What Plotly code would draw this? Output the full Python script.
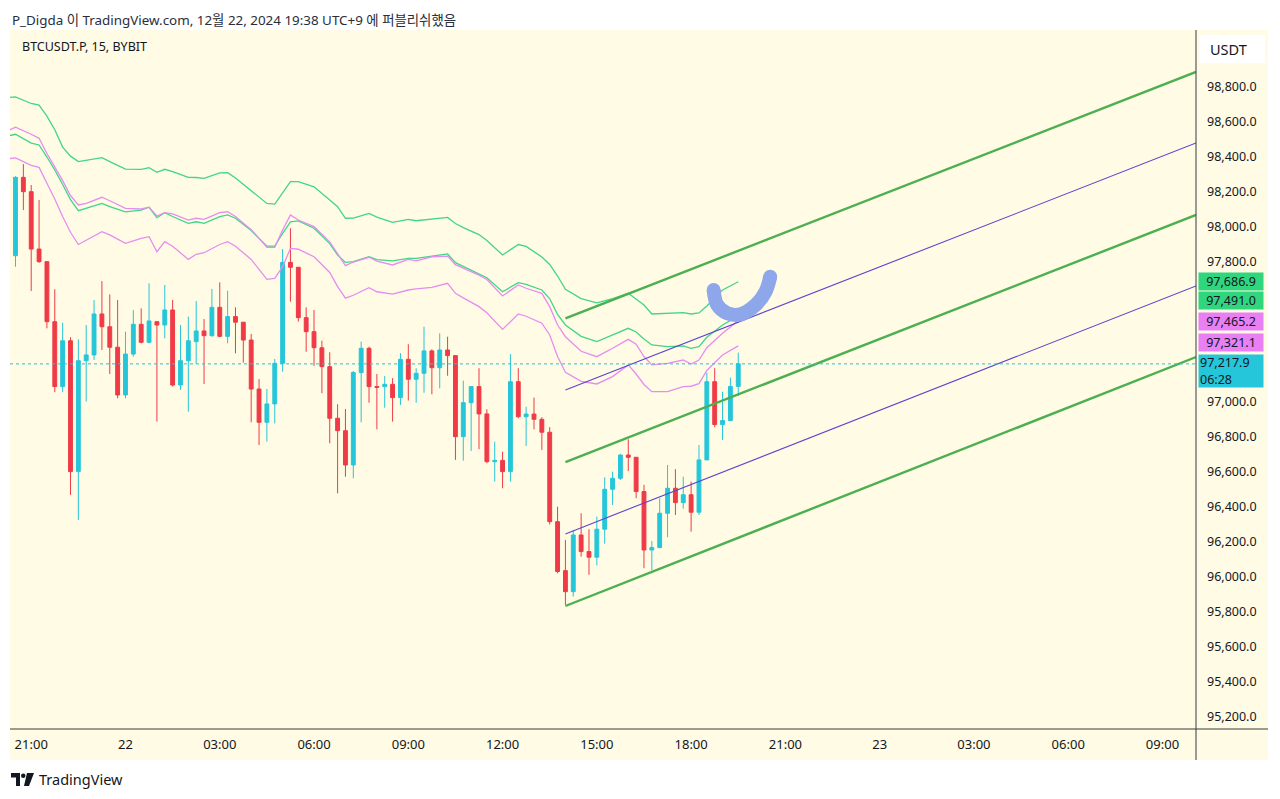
import pandas as pd
import plotly.graph_objects as go

# BTCUSDT.P 15m candles (Bybit, UTC+9), 21 Dec 20:30 -> 22 Dec 19:30
start = pd.Timestamp('2024-12-21 20:30')
opens = [97836, 98284, 98202, 97874, 97802, 97459, 97088, 97350, 96602, 97236,
         97269, 97503, 97430, 97313, 97040, 97274, 97444, 97341, 97459, 97440,
         97526, 97097, 97236, 97345, 97406, 97379, 97541, 97375, 97488, 97456,
         97354, 97074, 96884, 96989, 97221, 97798, 97770, 97482, 97402, 97310,
         97202, 96907, 96836, 96640, 97168, 97307, 97088, 97088, 97101, 97025,
         97244, 97130, 97164, 97292, 97196, 97297, 97265, 96802, 96996, 97088,
         96932, 96659, 96666, 96602, 97116, 96916, 96931, 96901, 96827, 96316,
         96036, 95916, 96240, 96145, 96113, 96273, 96501, 96564, 96697, 96684,
         96488, 96154, 96168, 96364, 96507, 96425, 96470, 96370, 96669, 97116,
         96871, 96894, 97089]
highs = [98290, 98360, 98240, 98154, 97802, 97644, 97453, 97370, 97358, 97440,
         97583, 97691, 97615, 97583, 97402, 97526, 97535, 97678, 97459, 97669,
         97583, 97440, 97488, 97577, 97474, 97646, 97684, 97636, 97541, 97456,
         97389, 97131, 97074, 97246, 97874, 97993, 97770, 97541, 97526, 97350,
         97284, 96987, 96960, 97177, 97345, 97316, 97160, 97149, 97136, 97279,
         97330, 97193, 97430, 97301, 97393, 97373, 97265, 97122, 97088, 97193,
         96958, 96773, 96716, 97274, 97193, 96973, 97025, 96913, 96856, 96402,
         96212, 96269, 96364, 96273, 96345, 96570, 96602, 96703, 96787, 96684,
         96526, 96205, 96450, 96640, 96616, 96573, 96545, 96754, 97168, 97193,
         97059, 97139, 97282]
lows = [97773, 98097, 97634, 97795, 97421, 97056, 97056, 96469, 96326, 97002,
        97240, 97297, 97160, 97021, 97021, 97259, 97335, 97335, 96888, 97364,
        97088, 97069, 96945, 97218, 97103, 97373, 97370, 97335, 97278, 97225,
        96884, 96754, 96773, 96878, 97173, 97573, 97459, 97287, 97206, 97050,
        96764, 96478, 96573, 96564, 96884, 96996, 96844, 96967, 96888, 96983,
        97008, 96996, 97053, 97044, 97078, 97150, 96669, 96665, 96720, 96730,
        96650, 96545, 96507, 96545, 96907, 96749, 96844, 96726, 96300, 96021,
        95840, 95888, 96116, 96012, 96066, 96190, 96411, 96554, 96605, 96450,
        96050, 96037, 96164, 96227, 96354, 96390, 96259, 96354, 96669, 96856,
        96783, 96894, 97034]
closes = [98284, 98202, 97874, 97802, 97459, 97088, 97350, 96602, 97236, 97269,
          97503, 97430, 97313, 97040, 97274, 97444, 97341, 97463, 97440, 97526,
          97097, 97236, 97350, 97406, 97379, 97541, 97375, 97488, 97456, 97354,
          97074, 96884, 96989, 97221, 97798, 97770, 97482, 97402, 97310, 97202,
          96907, 96836, 96640, 97168, 97307, 97088, 97084, 97101, 97025, 97244,
          97130, 97164, 97292, 97196, 97297, 97265, 96802, 96996, 97088, 96932,
          96659, 96666, 96602, 97116, 96916, 96931, 96901, 96827, 96316, 96031,
          95916, 96240, 96145, 96113, 96273, 96501, 96564, 96697, 96684, 96488,
          96154, 96168, 96364, 96507, 96425, 96470, 96370, 96669, 97116, 96871,
          96894, 97089, 97218]
times = pd.date_range(start, periods=len(opens), freq='15min')

# indicator bands, read at these bar numbers (bar 0 = 20:30)
band_idx = [-1, 0, 2, 3, 4, 5, 6, 7, 8, 9, 11, 12, 14, 16, 17, 18, 19, 20, 22, 23,
            24, 26, 27, 28, 30, 32, 33, 34, 35, 36, 38, 40, 41, 42, 43, 45, 46, 48,
            50, 51, 53, 55, 56, 57, 59, 60, 62, 64, 65, 67, 68, 69, 70, 72, 74, 76,
            78, 79, 80, 81, 83, 85, 86, 87, 88, 90, 92]
green_upper = [98740, 98744, 98706, 98697, 98634, 98556, 98457, 98405, 98374, 98380,
               98396, 98374, 98331, 98330, 98339, 98313, 98330, 98317, 98284, 98283,
               98278, 98309, 98310, 98280, 98206, 98135, 98131, 98193, 98259, 98259,
               98230, 98154, 98116, 98050, 98051, 98078, 98057, 98027, 98044, 98036,
               98046, 98055, 98020, 97997, 97957, 97923, 97840, 97900, 97889, 97829,
               97786, 97720, 97644, 97591, 97567, 97591, 97621, 97589, 97554, 97503,
               97507, 97511, 97503, 97509, 97549, 97640, 97687]
green_lower = [98520, 98530, 98480, 98469, 98400, 98326, 98243, 98157, 98093, 98107,
               98135, 98116, 98087, 98097, 98113, 98053, 98082, 98060, 98021, 98030,
               98021, 98059, 98069, 98050, 97980, 97891, 97891, 97964, 98030, 98035,
               97993, 97905, 97840, 97798, 97802, 97831, 97814, 97807, 97821, 97821,
               97834, 97846, 97796, 97775, 97735, 97710, 97630, 97682, 97672, 97640,
               97590, 97500, 97440, 97375, 97345, 97383, 97421, 97400, 97360, 97326,
               97316, 97320, 97307, 97316, 97370, 97440, 97491]
pink_upper = [98550, 98570, 98530, 98507, 98420, 98345, 98265, 98180, 98126, 98135,
              98170, 98150, 98107, 98103, 98113, 98063, 98082, 98075, 98040, 98050,
              98044, 98082, 98087, 98060, 97985, 97884, 97884, 97983, 98069, 98040,
              98002, 97915, 97850, 97779, 97800, 97827, 97805, 97783, 97815, 97807,
              97830, 97834, 97785, 97765, 97725, 97700, 97606, 97669, 97650, 97621,
              97545, 97440, 97373, 97290, 97259, 97307, 97358, 97330, 97260, 97212,
              97221, 97240, 97217, 97240, 97310, 97393, 97465]
pink_lower = [98390, 98395, 98352, 98341, 98250, 98160, 98060, 97970, 97900, 97925,
              97973, 97955, 97907, 97935, 97945, 97859, 97916, 97890, 97815, 97844,
              97853, 97900, 97916, 97890, 97815, 97701, 97707, 97773, 97878, 97873,
              97830, 97740, 97659, 97593, 97610, 97653, 97630, 97617, 97640, 97646,
              97655, 97678, 97621, 97595, 97545, 97510, 97415, 97503, 97490, 97450,
              97383, 97260, 97170, 97118, 97103, 97145, 97212, 97160, 97100, 97059,
              97059, 97088, 97090, 97105, 97180, 97269, 97321]
band_times = [start + pd.Timedelta(minutes=15 * i) for i in band_idx]

# parallel channel drawing, from the 14:00 low to the right edge
chan_times = ['2024-12-22 14:00', '2024-12-23 10:04']
chan_top = [97478, 98886]
chan_q1 = [97069, 98480]
chan_mid = [96656, 98069]
chan_q3 = [96246, 97663]
chan_bot = [95834, 97257]

# brush stroke
brush_times = ['2024-12-22 18:43', '2024-12-22 18:50', '2024-12-22 19:09', '2024-12-22 19:34',
               '2024-12-22 20:03', '2024-12-22 20:22', '2024-12-22 20:31']
brush_prices = [97640, 97554, 97507, 97501, 97554, 97630, 97716]

# right scale labels: (text, price, colour, nudge)
last_price = 97217.9
price_tags = [('97,686.9', 97686.9, '#2fd67e', 0),
              ('97,491.0', 97491.0, '#2fd67e', 16),
              ('97,465.2', 97465.2, '#e87ff3', -1),
              ('97,321.1', 97321.1, '#e87ff3', 3)]
# levels visible on the price scale (the others sit under the labels)
price_ticks = [98800, 98600, 98400, 98200, 98000, 97800, 97000, 96800, 96600,
               96400, 96200, 96000, 95800, 95600, 95400, 95200]

tick_times = pd.date_range('2024-12-21 21:00', '2024-12-23 09:00', freq='3h')
tick_text = ['21:00', '22', '03:00', '06:00', '09:00', '12:00', '15:00', '18:00',
             '21:00', '23', '03:00', '06:00', '09:00']

BG = '#fffbe4'
TXT = '#131722'
FONT = 'Noto Sans, Noto Sans CJK KR, sans-serif'
UP, DOWN = '#26c6da', '#f03a47'


# screen pixel -> paper coords of the plot area (x 10..1196, y 30..729)
def px(x):
    return (x - 10) / 1186


def py(y):
    return (729 - y) / 699


fig = go.Figure()

for vals, col in [(green_upper, '#3fd68a'), (green_lower, '#3fd68a'),
                  (pink_upper, '#e68cf2'), (pink_lower, '#e68cf2')]:
    fig.add_trace(go.Scatter(x=band_times, y=vals, mode='lines',
                             line=dict(color=col, width=1.3), hoverinfo='skip'))

fig.add_trace(go.Candlestick(x=times, open=opens, high=highs, low=lows, close=closes,
                             increasing=dict(line=dict(color=UP, width=1), fillcolor=UP),
                             decreasing=dict(line=dict(color=DOWN, width=1), fillcolor=DOWN),
                             whiskerwidth=0))

for vals in [chan_q1, chan_q3]:
    fig.add_trace(go.Scatter(x=chan_times, y=vals, mode='lines',
                             line=dict(color='#5b45cc', width=1.1), hoverinfo='skip'))
for vals in [chan_top, chan_mid, chan_bot]:
    fig.add_trace(go.Scatter(x=chan_times, y=vals, mode='lines',
                             line=dict(color='#4caf50', width=2.4), hoverinfo='skip'))

fig.add_trace(go.Scatter(x=brush_times, y=brush_prices, mode='lines',
                         line=dict(color='#8ea6ea', width=14, shape='spline'),
                         hoverinfo='skip'))
fig.add_trace(go.Scatter(x=[brush_times[0], brush_times[-1]],
                         y=[brush_prices[0], brush_prices[-1]], mode='markers',
                         marker=dict(color='#8ea6ea', size=14), hoverinfo='skip'))

shapes = [
    dict(type='rect', xref='paper', yref='paper', x0=px(10), x1=px(1268), y0=py(760), y1=py(30),
         fillcolor=BG, line=dict(width=0), layer='below'),
    dict(type='line', xref='paper', yref='paper', x0=px(10), x1=px(1268), y0=py(729), y1=py(729),
         line=dict(color='#363a45', width=1)),
    dict(type='line', xref='paper', yref='paper', x0=px(1196), x1=px(1196), y0=py(760), y1=py(30),
         line=dict(color='#363a45', width=1)),
    dict(type='line', xref='paper', yref='y', x0=0, x1=1, y0=last_price, y1=last_price,
         line=dict(color=UP, width=1, dash='dot')),
    # USDT button
    dict(type='rect', xref='paper', yref='paper', x0=px(1200), x1=px(1265), y0=py(63), y1=py(35),
         fillcolor='white', line=dict(width=0)),
    # TradingView logo
    dict(type='path', xref='paper', yref='paper', fillcolor='#131722', line=dict(width=0),
         path=f'M {px(11)} {py(773)} L {px(20)} {py(773)} L {px(20)} {py(786)} L {px(16)} {py(786)} '
              f'L {px(16)} {py(777.5)} L {px(11)} {py(777.5)} Z'),
    dict(type='circle', xref='paper', yref='paper', fillcolor='#131722', line=dict(width=0),
         x0=px(21), x1=px(25.5), y0=py(778), y1=py(773.5)),
    dict(type='path', xref='paper', yref='paper', fillcolor='#131722', line=dict(width=0),
         path=f'M {px(27)} {py(773)} L {px(34)} {py(773)} L {px(29)} {py(786)} L {px(24)} {py(786)} Z'),
]

annotations = [
    dict(xref='paper', yref='paper', x=px(10), y=py(8.5), xanchor='left', yanchor='top',
         text='P_Digda 이 TradingView.com, 12월 22, 2024 19:38 UTC+9 에 퍼블리쉬했음',
         showarrow=False, font=dict(size=13.4, color='#2a2e39')),
    dict(xref='paper', yref='paper', x=px(20), y=py(46), xanchor='left', yanchor='middle',
         text='BTCUSDT.P, 15, BYBIT', showarrow=False, font=dict(size=12.5, color=TXT)),
    dict(xref='paper', yref='paper', x=px(1228), y=py(49), xanchor='center', yanchor='middle',
         text='USDT', showarrow=False, font=dict(size=14.5, color=TXT)),
    dict(xref='paper', yref='paper', x=px(37), y=py(779), xanchor='left', yanchor='middle',
         text='TradingView', showarrow=False, font=dict(size=14.5, color=TXT)),
]
for text, val, col, shift in price_tags:
    annotations.append(dict(xref='paper', yref='y', x=px(1230.5), y=val, yshift=shift,
                            xanchor='center', yanchor='middle', text=text, showarrow=False,
                            bgcolor=col, width=62, height=15, borderpad=1,
                            font=dict(size=12.5, color=TXT)))
annotations.append(dict(xref='paper', yref='y', x=px(1230.5), y=last_price, yshift=-7,
                        xanchor='center', yanchor='middle',
                        text=f'{last_price:,.1f}<br>06:28', showarrow=False,
                        bgcolor=UP, width=62, height=30, borderpad=1, align='left',
                        font=dict(size=12.5, color=TXT)))

# the page body adds an 8px margin, so the figure is 8px smaller on each side
fig.update_layout(
    width=1272, height=791,
    margin=dict(l=2, r=84, t=22, b=70),
    paper_bgcolor='white', plot_bgcolor=BG,
    showlegend=False,
    font=dict(family=FONT, color=TXT),
    shapes=shapes, annotations=annotations,
    xaxis=dict(type='date', range=['2024-12-21 20:19:30', '2024-12-23 10:04'],
               rangeslider=dict(visible=False), showgrid=False, zeroline=False,
               tickvals=tick_times, ticktext=tick_text, ticks='',
               ticklabelstandoff=6, tickfont=dict(size=13, color=TXT)),
    yaxis=dict(side='right', range=[95131, 99126], tickvals=price_ticks,
               tickformat=',.1f', showgrid=False, zeroline=False, ticks='',
               ticklabelstandoff=10, tickfont=dict(size=12.5, color=TXT)),
)

fig.write_html('out.html')
